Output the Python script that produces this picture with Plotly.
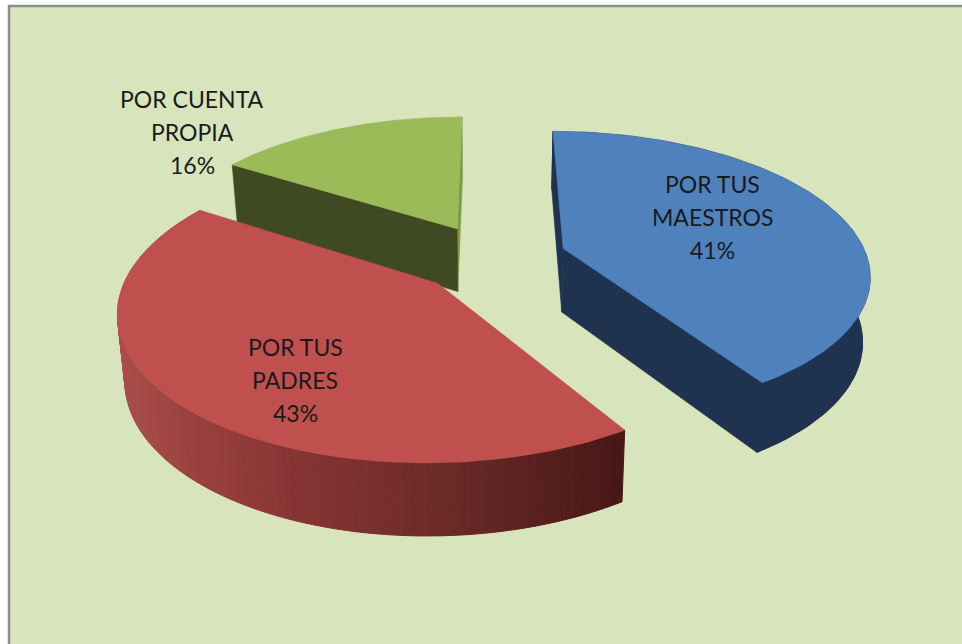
import math
import plotly.graph_objects as go

# Data
categories = ["POR TUS MAESTROS", "POR TUS PADRES", "POR CUENTA PROPIA"]
values = [41, 43, 16]
label_lines = [["POR TUS", "MAESTROS", "41%"], ["POR TUS", "PADRES", "43%"], ["POR CUENTA", "PROPIA", "16%"]]
label_centres = [(712, 217), (295, 380), (192, 132)]

TOP = ["#4f81bd", "#c0504d", "#9bbb59"]
WALL_BLUE = "#1f3350"
WALL_GREEN = "#3f4a22"
EDGE_GREEN = "#7f9a48"
BG = "#d8e4bc"
RED_STOPS = [(116, (170, 77, 74)), (200, (152, 64, 62)), (300, (133, 52, 51)),
             (450, (106, 42, 40)), (618, (72, 24, 22))]

CX, CY, K, D, R, EXPL, H, XC = 492, 258, 0.46, 1800, 304, 75, 64, 490

def project(X, Y, bottom=False):
    f = D / (D + Y)
    x = CX + X * f
    y = CY - K * Y * f
    if bottom:
        y += H * f ** 0.6
        x = XC + (x - XC) * 0.98
    return x, y

def red_colour(x):
    for (x0, c0), (x1, c1) in zip(RED_STOPS, RED_STOPS[1:]):
        if x <= x1:
            t = max(0, (x - x0) / (x1 - x0))
            c = [round(a + (b - a) * t) for a, b in zip(c0, c1)]
            return f"rgb({c[0]},{c[1]},{c[2]})"
    return "rgb(72,24,22)"

def poly(fig, pts, colour, width=0.6):
    xs, ys = zip(*pts)
    fig.add_trace(go.Scatter(x=list(xs) + [xs[0]], y=list(ys) + [ys[0]], mode="lines", fill="toself",
                             fillcolor=colour, line=dict(color=colour, width=width),
                             hoverinfo="skip", showlegend=False))

total = sum(values)
slices = []
acc = 0.0
for v in values:
    a0 = acc / total * 2 * math.pi
    acc += v
    a1 = acc / total * 2 * math.pi
    mid = (a0 + a1) / 2
    slices.append((a0, a1, EXPL * math.sin(mid), EXPL * math.cos(mid)))

def rim(i, bottom=False, n=120):
    a0, a1, ox, oy = slices[i]
    return [project(ox + R * math.sin(a0 + (a1 - a0) * j / n),
                    oy + R * math.cos(a0 + (a1 - a0) * j / n), bottom) for j in range(n + 1)]

def apex(i, bottom=False):
    return project(slices[i][2], slices[i][3], bottom)

fig = go.Figure()

# green slice: the far radial wall shows as a sliver, the near one as the dark wall
top, bot = rim(2), rim(2, True)
a, ab = apex(2), apex(2, True)
poly(fig, [top[-1], a, ab, bot[-1]], EDGE_GREEN)
poly(fig, [top[0], a, ab, bot[0]], WALL_GREEN)
poly(fig, [a] + top, TOP[2])

# blue slice: silhouette of the walls as one shape, so that no seam shows
top, bot = rim(0), rim(0, True)
a, ab = apex(0), apex(0, True)
poly(fig, [ab] + bot[::-1] + [top[0], a], WALL_BLUE)
poly(fig, [top[0], a, ab, bot[0]], WALL_BLUE)
poly(fig, top + bot[::-1], WALL_BLUE)
poly(fig, [a] + top, TOP[0])

# red slice: outer wall shaded band by band
top, bot = rim(1), rim(1, True)
a = apex(1)
for j in range(len(top) - 1):
    xm = (top[j][0] + top[j + 1][0]) / 2
    poly(fig, [top[j], top[j + 1], bot[j + 1], bot[j]], red_colour(xm), 1)
poly(fig, [a] + top, TOP[1])

annotations = []
for lines, (lx, ly) in zip(label_lines, label_centres):
    for n, line in enumerate(lines):
        annotations.append(dict(x=lx, y=ly + (n - 1) * 33, text=line, showarrow=False,
                                xanchor="center", yanchor="middle",
                                font=dict(family="Lato", size=23, color="#1a1a1a")))

fig.update_layout(
    width=962, height=644, margin=dict(l=0, r=0, t=0, b=0),
    paper_bgcolor="white", plot_bgcolor="white", showlegend=False,
    xaxis=dict(range=[0, 962], visible=False, fixedrange=True),
    yaxis=dict(range=[644, 0], visible=False, fixedrange=True),
    annotations=annotations,
    shapes=[dict(type="rect", xref="x", yref="y", x0=9, y0=6, x1=975, y1=660, layer="below",
                 fillcolor=BG, line=dict(color="#8e8e8e", width=2.5))],
)
fig.write_html("out.html", post_script="document.body.style.margin='0';document.body.style.overflow='hidden';",
               config=dict(displayModeBar=False))
